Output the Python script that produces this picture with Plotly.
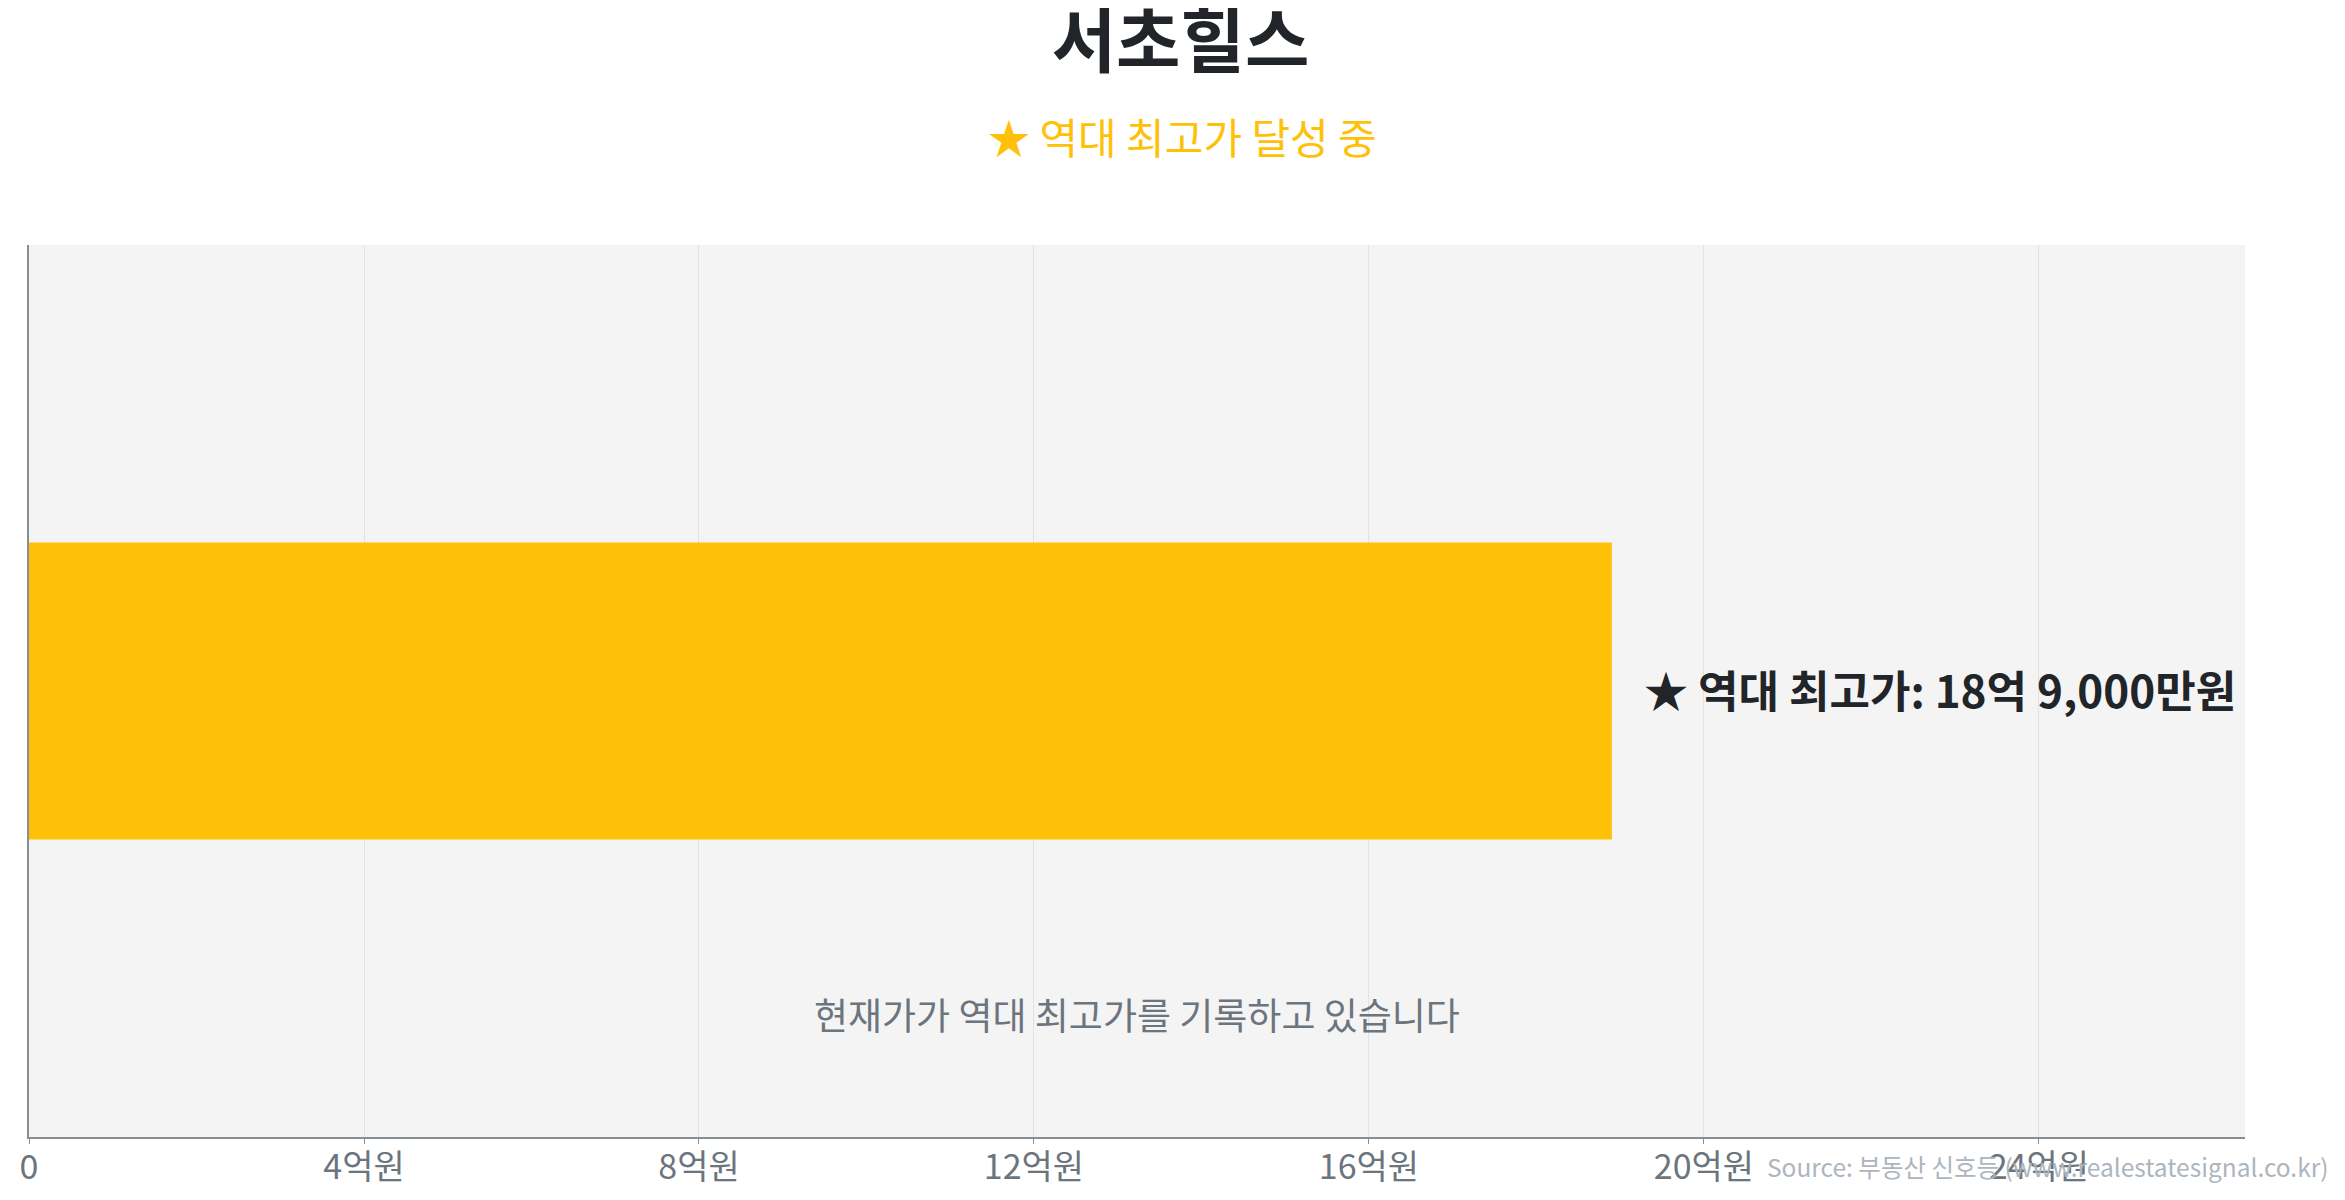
import plotly.graph_objects as go

# data (만원 단위)
apt_name = "서초힐스"
categories = [apt_name]
current_price = [189000]
record_price = 189000
tick_vals = [0, 40000, 80000, 120000, 160000, 200000, 240000]
tick_text = ["0", "4억원", "8억원", "12억원", "16억원", "20억원", "24억원"]
subtitle = "★ 역대 최고가 달성 중"
bar_label = "★ 역대 최고가: 18억 9,000만원"
note = "현재가가 역대 최고가를 기록하고 있습니다"
source = "Source: 부동산 신호등 (www.realestatesignal.co.kr)"

FONT = "Noto Sans CJK KR"
AMBER = "#FFC107"
DARK = "#212529"
GRAY = "#6c757d"
AXIS = "#868e96"

fig = go.Figure()
fig.add_trace(go.Bar(x=current_price, y=categories, orientation="h",
                     width=0.333, marker=dict(color=AMBER, line=dict(width=0)),
                     hoverinfo="skip", showlegend=False))

# label next to the bar
fig.add_annotation(x=record_price, y=apt_name, xref="x", yref="y",
                   text="<b>" + bar_label + "</b>", showarrow=False,
                   xanchor="left", xshift=30, yshift=2,
                   font=dict(family=FONT, size=44, color=DARK))
fig.add_annotation(x=0.5, y=0.105, xref="paper", yref="paper", text=note,
                   showarrow=False, font=dict(family=FONT, size=37, color=GRAY))
# subtitle centred on the whole figure, not on the plot area
fig.add_annotation(x=0.5207, y=1.123, xref="paper", yref="paper", text=subtitle,
                   showarrow=False, yanchor="middle",
                   font=dict(family=FONT, size=42, color=AMBER))
fig.add_annotation(x=1.039, y=-0.033, xref="paper", yref="paper", text=source,
                   showarrow=False, xanchor="right", yanchor="middle",
                   font=dict(family=FONT, size=24.5, color="#adb5bd"))

fig.update_xaxes(range=[0, record_price * 1.4], tickvals=tick_vals, ticktext=tick_text,
                 showgrid=True, gridcolor="#e2e2e2", gridwidth=1,
                 showline=True, linecolor=AXIS, linewidth=2,
                 ticks="outside", ticklen=5, tickcolor=AXIS, tickwidth=1,
                 ticklabelstandoff=-6,
                 tickfont=dict(family=FONT, size=34, color=GRAY), zeroline=False)
fig.update_yaxes(range=[-0.5, 0.5], showticklabels=False, showgrid=False,
                 showline=True, linecolor=AXIS, linewidth=2, zeroline=False)

fig.update_layout(
    width=2345, height=1200,
    title=dict(text="<b>" + apt_name + "</b>", x=0.5, xanchor="center",
               y=1 - 34 / 1200, yanchor="middle",
               font=dict(family=FONT, size=70, color=DARK)),
    plot_bgcolor="#f4f4f4", paper_bgcolor="white",
    margin=dict(l=16, r=108, t=237, b=71),
    font=dict(family=FONT),
)

fig.write_html("out.html")
